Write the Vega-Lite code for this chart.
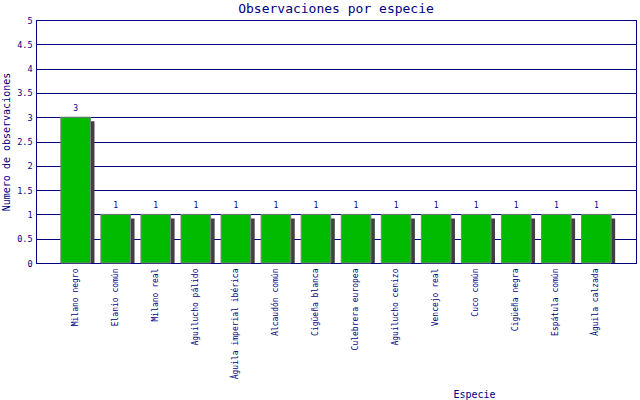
{
  "$schema": "https://vega.github.io/schema/vega-lite/v6.json",
  "autosize": "none",
  "width": 600,
  "height": 243,
  "padding": {"left": 36, "top": 20, "right": 4, "bottom": 137},
  "background": "white",
  "config": {
    "font": "DejaVu Sans Mono",
    "view": {"stroke": "#000080", "strokeWidth": 1}
  },
  "title": {
    "text": "Observaciones por especie",
    "font": "DejaVu Sans Mono",
    "fontSize": 13,
    "fontWeight": "normal",
    "color": "#000080",
    "anchor": "middle",
    "frame": "group",
    "offset": 0
  },
  "data": {
    "values": [
      {"especie": "Milano negro", "n": 3},
      {"especie": "Elanio común", "n": 1},
      {"especie": "Milano real", "n": 1},
      {"especie": "Aguilucho pálido", "n": 1},
      {"especie": "Águila imperial ibérica", "n": 1},
      {"especie": "Alcaudón común", "n": 1},
      {"especie": "Cigüeña blanca", "n": 1},
      {"especie": "Culebrera europea", "n": 1},
      {"especie": "Aguilucho cenizo", "n": 1},
      {"especie": "Vencejo real", "n": 1},
      {"especie": "Cuco común", "n": 1},
      {"especie": "Cigüeña negra", "n": 1},
      {"especie": "Espátula común", "n": 1},
      {"especie": "Águila calzada", "n": 1}
    ]
  },
  "encoding": {
    "x": {
      "field": "especie",
      "type": "nominal",
      "sort": null,
      "scale": {"paddingInner": 0.26, "paddingOuter": 0.62},
      "axis": {
        "title": "Especie",
        "titleFont": "DejaVu Sans Mono",
        "titleFontSize": 10,
        "titleFontWeight": "normal",
        "titleColor": "#000080",
        "titleX": 438,
        "titleY": 131,
        "titleBaseline": "middle",
        "titleAlign": "center",
        "labelAngle": 270,
        "labelAlign": "right",
        "labelBaseline": "middle",
        "labelFont": "DejaVu Sans Mono",
        "labelFontSize": 8,
        "labelColor": "#000080",
        "labelPadding": 5,
        "labelLimit": 200,
        "ticks": false,
        "domainColor": "#000080",
        "grid": false
      }
    },
    "y": {
      "field": "n",
      "type": "quantitative",
      "stack": null,
      "scale": {"domain": [0, 5], "nice": false},
      "axis": {
        "title": "Numero de observaciones",
        "titleFont": "DejaVu Sans Mono",
        "titleFontSize": 10,
        "titleFontWeight": "normal",
        "titleColor": "#000080",
        "titlePadding": 5,
        "values": [0, 0.5, 1, 1.5, 2, 2.5, 3, 3.5, 4, 4.5, 5],
        "format": ".1~f",
        "labelFont": "DejaVu Sans Mono",
        "labelFontSize": 8.5,
        "labelColor": "#000080",
        "labelPadding": 4,
        "ticks": false,
        "domainColor": "#000080",
        "grid": true,
        "gridColor": "#000080",
        "gridOpacity": 1,
        "gridWidth": 1
      }
    }
  },
  "layer": [
    {
      "mark": {"type": "bar", "color": "#404040", "xOffset": 4, "x2Offset": 4, "yOffset": 4, "y2Offset": -4}
    },
    {
      "mark": {"type": "bar", "color": "#00bb00", "stroke": "#808080", "strokeWidth": 1}
    },
    {
      "mark": {"type": "text", "dy": -8, "fontSize": 8, "font": "DejaVu Sans Mono", "color": "#000080"},
      "encoding": {"text": {"field": "n", "type": "quantitative"}}
    }
  ]
}
